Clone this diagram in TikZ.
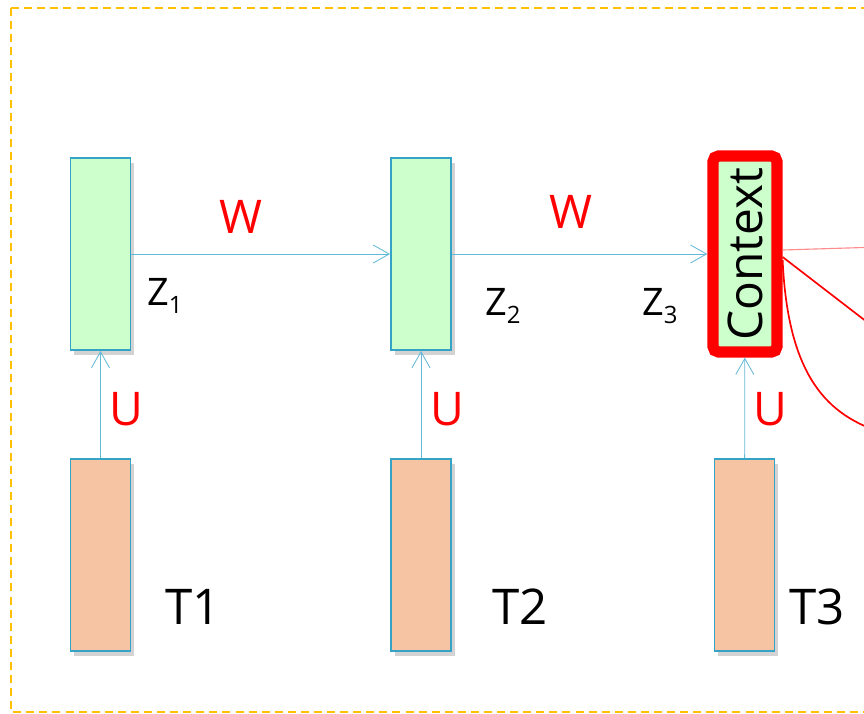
\documentclass[tikz,border=0pt]{standalone}
\usepackage{fontspec}
\setmainfont{Open Sans}
\usepackage{tikz}
\usetikzlibrary{arrows.meta,shadows,positioning}
\definecolor{cellgreen}{RGB}{204,255,204}
\definecolor{cellorange}{RGB}{246,195,163}
\definecolor{cellblue}{RGB}{52,163,197}
\definecolor{linkblue}{RGB}{100,185,215}
\definecolor{framegold}{RGB}{255,192,0}
\newcommand{\bigtxt}{\fontsize{33}{40}\selectfont}
\newcommand{\zlab}[1]{{\fontsize{27}{32}\selectfont Z\raisebox{-6pt}{\fontsize{17}{20}\selectfont #1}}}

\begin{document}
\begin{tikzpicture}[x=0.025cm,y=-0.025cm]
% box shapes and colors
\tikzstyle{cell}=[rectangle,minimum width=1.5cm,minimum height=4.8cm,inner sep=0pt,draw=cellblue,line width=1.3pt,
  drop shadow={shadow xshift=2.5pt,shadow yshift=-3.5pt,opacity=0.35}]
\tikzstyle{hidden}=[cell,fill=cellgreen]
\tikzstyle{input}=[cell,fill=cellorange]
\tikzstyle{link}=[-{Straight Barb[length=4mm,width=4.5mm]},draw=linkblue,line width=0.6pt]
\tikzstyle{wlabel}=[text=red,font=\bigtxt,inner sep=0pt]

\useasboundingbox (0,0) rectangle (864,713);
\clip (0,0) rectangle (864,713);

% frame
\draw[framegold,line width=1.6pt,dash pattern=on 5.7pt off 3.6pt] (11,8) rectangle (900,712);

% nodes
\node[hidden] (H-1) at (100.5,254) {};
\node[hidden] (H-2) at (421,254) {};
\node[hidden,draw=red,line width=8pt,rounded corners=4pt,minimum width=1.6cm,minimum height=4.9cm] (H-3) at (745,254)
  {\rotatebox{90}{\fontsize{34}{40}\selectfont Context}};
\foreach \name/\x in {1/100.5,2/421,3/744.5}
\node[input] (T-\name) at (\x,555) {};

% arrows
\foreach \from/\to in {1/2,2/3}
\draw[link] (H-\from) -- (H-\to);
\foreach \name in {1,2,3}
\draw[link] (T-\name) -- (H-\name);

% weights
\node[wlabel] (W-1) at (241,217) {W};
\node[wlabel] (W-2) at (571,212) {W};
\foreach \name/\x in {1/126,2/447,3/770}
\node[wlabel] (U-\name) at (\x,409) {U};

% states and inputs
\node[anchor=base west,inner sep=0pt] (Z-1) at (147,305) {\zlab{1}};
\node[anchor=base west,inner sep=0pt] (Z-2) at (485,315) {\zlab{2}};
\node[anchor=base west,inner sep=0pt] (Z-3) at (642,315) {\zlab{3}};
\foreach \name/\x in {1/193,2/520,3/817}
\node[font=\fontsize{35}{42}\selectfont,inner sep=0pt] (TL-\name) at (\x,607) {T\name};

% context output lines
\coordinate (out-a) at (880,247);
\coordinate (out-b) at (880,332);
\coordinate (out-c) at (880,432);
\draw[red!45,line width=0.8pt] (H-3.east |- 0,250) -- (out-a);
\draw[red,line width=1.2pt] (H-3.east |- 0,257) -- (out-b);
\draw[red,line width=1.2pt] (H-3.east |- 0,260) .. controls (788,380) and (830,415) .. (out-c);
\end{tikzpicture}
\end{document}
